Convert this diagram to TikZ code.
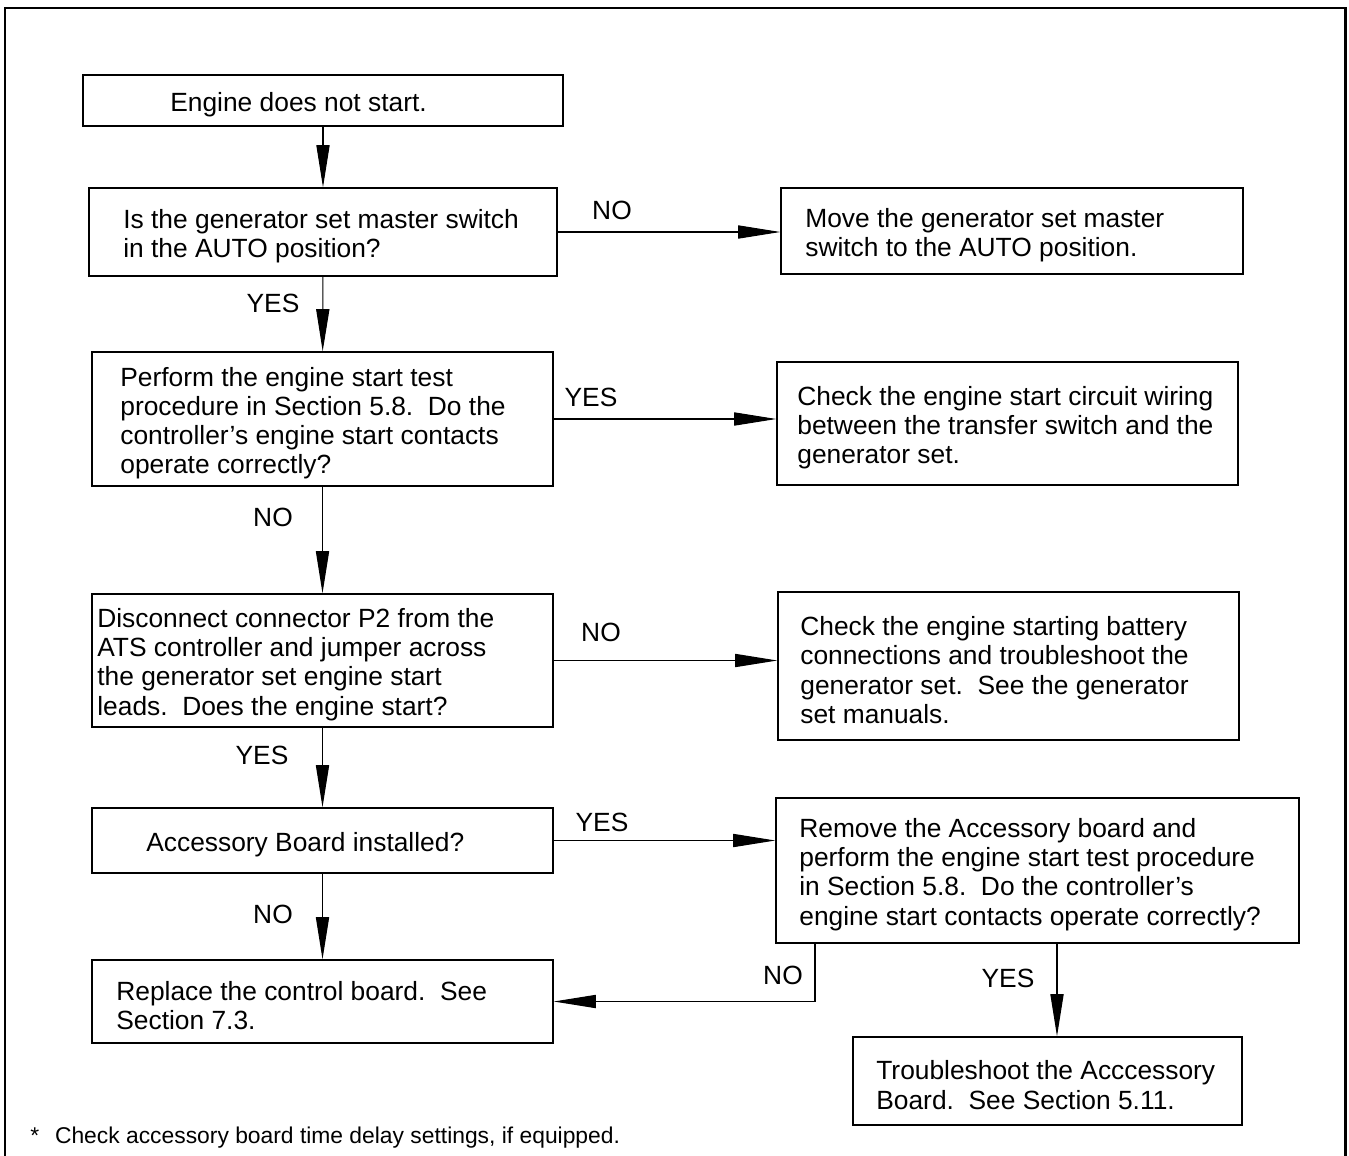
\documentclass[tikz,border=0pt]{standalone}
\usepackage{fontspec}
\setmainfont{Liberation Sans}
\usetikzlibrary{arrows.meta,calc,fit,positioning}

\tikzset{
  flowframe/.style={draw, line width=0.8pt, inner sep=0pt},
  flowtext/.style={inner sep=0pt, align=left, anchor=west,
    font=\fontsize{15}{16.6}\selectfont},
  flowarrow/.style={line width=0.6pt, -{Triangle[length=24pt,width=7.5pt]}},
  answer/.style={inner sep=0pt, font=\fontsize{15}{16.6}\selectfont},
  sheetline/.style={line width=1.7pt},
}
% box name, left, top, right, bottom, text start, text
\newcommand{\flowbox}[7]{%
  \node[flowframe, fit={(#2,#3) (#4,#5)}] (#1) {};
  \node[flowtext] (#1-txt) at (#6,{(#3+#5)/2+4}) {#7};
}

\begin{document}
\begin{tikzpicture}[x=0.02cm,y=-0.02cm]
  \useasboundingbox (0,0) rectangle (1349,1156);
  \coordinate (sheetBL) at (5,1156);
  \coordinate (sheetTR) at (1345,8);
  \draw[sheetline] (sheetBL) |- (sheetTR) -- (sheetTR |- sheetBL);

  \flowbox{start}{83}{75}{563}{126}{170}{Engine does not start.}
  \flowbox{qswitch}{89}{188}{557}{276}{123}{Is the generator set master switch\\in the AUTO position?}
  \flowbox{rswitch}{781}{188}{1243}{274}{805}{Move the generator set master\\switch to the AUTO position.}
  \flowbox{qtest}{92}{352}{553}{486}{120}{Perform the engine start test\\procedure in Section 5.8.\ \ Do the\\controller's engine start contacts\\operate correctly?}
  \flowbox{rwiring}{777}{362}{1238}{485}{797}{Check the engine start circuit wiring\\between the transfer switch and the\\generator set.}
  \flowbox{qjump}{92}{594}{553}{727}{97}{Disconnect connector P2 from the\\ATS controller and jumper across\\the generator set engine start\\leads.\ \ Does the engine start?}
  \flowbox{rbattery}{778}{592}{1239}{740}{800}{Check the engine starting battery\\connections and troubleshoot the\\generator set.\ \ See the generator\\set manuals.}
  \flowbox{qboard}{92}{808}{553}{873}{146}{Accessory Board installed?}
  \flowbox{rboard}{776}{798}{1299}{943}{799}{Remove the Accessory board and\\perform the engine start test procedure\\in Section 5.8.\ \ Do the controller's\\engine start contacts operate correctly?}
  \flowbox{replace}{92}{960}{553}{1043}{116}{Replace the control board.\ \ See\\Section 7.3.}
  \flowbox{trouble}{853}{1037}{1242}{1125}{876}{Troubleshoot the Acccessory\\Board.\ \ See Section 5.11.}

  % main column
  \draw[flowarrow] (start) -- (qswitch);
  \draw[flowarrow] (qswitch) -- (qtest);
  \draw[flowarrow] (qtest) -- (qjump);
  \draw[flowarrow] (qjump) -- (qboard);
  \draw[flowarrow] (qboard) -- (replace);
  % side branches
  \draw[flowarrow] (qswitch.east) -- (qswitch.east -| rswitch.west);
  \draw[flowarrow] (qtest.east) -- (qtest.east -| rwiring.west);
  \draw[flowarrow] (qjump.east) -- (qjump.east -| rbattery.west);
  \draw[flowarrow] (qboard.east) -- (qboard.east -| rboard.west);
  \coordinate (backNO) at (815,1000);
  \draw[flowarrow] (rboard.south -| backNO) |- (replace.east);
  \coordinate (downYES) at (1057,1000);
  \draw[flowarrow] (rboard.south -| downYES) -- (trouble.north -| downYES);

  \node[answer] (aSwitch) at (612,210) {NO};
  \node[answer] (aAuto) at (273,303) {YES};
  \node[answer] (aWiring) at (591,397) {YES};
  \node[answer] (aTest) at (273,517) {NO};
  \node[answer] (aBattery) at (601,632) {NO};
  \node[answer] (aJump) at (262,755) {YES};
  \node[answer] (aBoard) at (602,822) {YES};
  \node[answer] (aNoBoard) at (273,914) {NO};
  \node[answer] (aBack) at (783,975) {NO};
  \node[answer] (aTrouble) at (1008,978) {YES};

  \node[inner sep=0pt, anchor=west, font=\fontsize{13}{15}\selectfont] (note) at (30,1138) {*\hspace{9pt}Check accessory board time delay settings, if equipped.};
\end{tikzpicture}
\end{document}
